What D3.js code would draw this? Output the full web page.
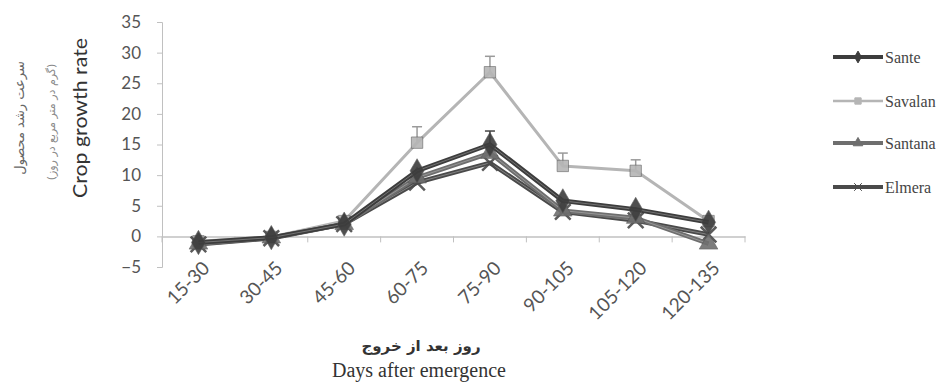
<!DOCTYPE html>
<html><head><meta charset="utf-8">
<script src="https://cdn.jsdelivr.net/npm/d3@7"></script>
<style>body{margin:0;background:#fff}svg{display:block}</style>
</head><body><svg id="c" width="947" height="383"></svg>
<script>
const categories = ["15-30","30-45","45-60","60-75","75-90","90-105","105-120","120-135"];
const sante   = [-1.0, -0.2, 2.0, 10.7, 15.0, 5.8, 4.4, 2.3];
const savalan = [-0.8, -0.1, 2.5, 15.3, 26.8, 11.5, 10.7, 2.5];
const santana = [-1.2, -0.2, 2.0, 9.6, 13.6, 4.2, 3.0, -1.2];
const elmera  = [-1.3, -0.3, 2.0, 8.8, 12.0, 4.0, 2.6, 0.3];
const savalanErr = [0, 0, 0, 2.6, 2.6, 2.1, 1.8, 0];
const santeErr   = [0, 0, 0, 0, 2.2, 0, 0, 0];
const yTicks = [-5,0,5,10,15,20,25,30,35];
const seriesNames = ["Sante","Savalan","Santana","Elmera"];

const svg = d3.select("#c");
const x = d3.scaleBand().domain(categories).range([162,745]);
const y = d3.scaleLinear().domain([-5,35]).range([267,22]);
const axisCol = "#c0c0c0";
const sans = "Lato, 'Open Sans', sans-serif";

// y axis
const ya = svg.append("g").attr("transform","translate(162,0)")
  .call(d3.axisLeft(y).tickValues(yTicks).tickSize(5).tickPadding(16));
ya.select(".domain").attr("stroke",axisCol);
ya.selectAll(".tick line").attr("stroke",axisCol);
ya.selectAll("text").attr("font-family",sans).attr("font-size",17).attr("fill","#555");

// x axis at zero
const xa = svg.append("g").attr("transform",`translate(0,${y(0)})`)
  .call(d3.axisBottom(x).tickSize(0).tickFormat(""));
xa.select(".domain").attr("stroke",axisCol).attr("stroke-width",1.5);
svg.append("g").selectAll("line").data(categories.concat(["end"])).join("line")
  .attr("x1",(d,i)=>162+i*x.bandwidth()).attr("x2",(d,i)=>162+i*x.bandwidth())
  .attr("y1",y(0)).attr("y2",y(0)+6).attr("stroke",axisCol);

// x tick labels
svg.append("g").selectAll("text").data(categories).join("text")
  .attr("transform",d=>`translate(${x(d)+x.bandwidth()/2+3},${y(-5)-7}) rotate(-45)`)
  .attr("text-anchor","end").attr("dy","0.7em")
  .attr("font-family",sans).attr("font-size",19).attr("fill","#555")
  .text(d=>d);

const cx = d=>x(d)+x.bandwidth()/2;
const line = d3.line().x((v,i)=>cx(categories[i])).y(v=>y(v));

// error bars
function errBars(vals, errs, col){
  const g = svg.append("g").attr("stroke",col).attr("stroke-width",1.5);
  categories.forEach((c,i)=>{
    if(!errs[i]) return;
    g.append("line").attr("x1",cx(c)).attr("x2",cx(c)).attr("y1",y(vals[i])).attr("y2",y(vals[i]+errs[i]));
    g.append("line").attr("x1",cx(c)-5).attr("x2",cx(c)+5).attr("y1",y(vals[i]+errs[i])).attr("y2",y(vals[i]+errs[i]));
  });
}
errBars(savalan, savalanErr, "#9a9a9a");
errBars(sante, santeErr, "#444");

const styles = {
  Sante:{data:sante,col:"#3d3d3d",core:"#8a8a8a",w:4.5,sym:d3.symbolDiamond,size:170},
  Savalan:{data:savalan,col:"#b5b5b5",core:"#cfcfcf",w:3,sym:d3.symbolSquare,size:130},
  Santana:{data:santana,col:"#6e6e6e",core:"#a8a8a8",w:4.5,sym:d3.symbolTriangle,size:150},
  Elmera:{data:elmera,col:"#4a4a4a",core:"#9a9a9a",w:4.5,sym:d3.symbolX,size:160}
};
const drawOrder = ["Savalan","Elmera","Santana","Sante"];
drawOrder.forEach(n=>{
  const s = styles[n];
  svg.append("path").datum(s.data).attr("d",line).attr("fill","none")
    .attr("stroke",s.col).attr("stroke-width",s.w).attr("stroke-linejoin","round");
  if(n!=="Savalan") svg.append("path").datum(s.data).attr("d",line).attr("fill","none")
    .attr("stroke",s.core).attr("stroke-width",1).attr("opacity",0.7);
  svg.append("g").selectAll("path").data(s.data).join("path")
    .attr("transform",(v,i)=>`translate(${cx(categories[i])},${y(v)})`)
    .attr("d",d3.symbol().type(s.sym).size(s.size))
    .attr("fill",s.col).attr("stroke",s.sym===d3.symbolX?s.col:"#555").attr("stroke-width",s.sym===d3.symbolX?2.5:0.6)
    .attr("opacity",0.9);
});

// legend
const lg = svg.append("g");
const ly = [57,101,143,187];
seriesNames.forEach((n,i)=>{
  const s = styles[n];
  lg.append("line").attr("x1",833).attr("x2",883).attr("y1",ly[i]).attr("y2",ly[i])
    .attr("stroke",s.col).attr("stroke-width",s.w-0.5);
  lg.append("path").attr("transform",`translate(858,${ly[i]})`)
    .attr("d",d3.symbol().type(s.sym).size(40)).attr("fill",s.col).attr("stroke",s.col);
  lg.append("text").attr("x",885).attr("y",ly[i]).attr("dy","0.35em")
    .attr("font-family","'Liberation Serif', serif").attr("font-size",16).attr("fill","#444").text(n);
});

// axis titles
svg.append("text").attr("x",421).attr("y",351).attr("text-anchor","middle")
  .attr("font-family","'DejaVu Sans', 'Noto Sans', sans-serif").attr("font-weight","bold").attr("font-size",15).attr("fill","#333")
  .attr("direction","rtl").text("روز بعد از خروج");
svg.append("text").attr("x",419).attr("y",377).attr("text-anchor","middle")
  .attr("font-family","'Liberation Serif', serif").attr("font-size",20).attr("fill","#333")
  .text("Days after emergence");

svg.append("text").attr("transform","translate(87,118) rotate(-90)").attr("text-anchor","middle")
  .attr("font-family",sans).attr("font-size",19).attr("fill","#333")
  .attr("textLength",160).attr("lengthAdjust","spacingAndGlyphs").text("Crop growth rate");
svg.append("text").attr("transform","translate(55,122) rotate(-90)").attr("text-anchor","middle")
  .attr("font-family","'DejaVu Sans', 'Noto Sans', sans-serif").attr("font-size",11).attr("fill","#888")
  .attr("direction","rtl").text("(گرم در متر مربع در روز)");
svg.append("text").attr("transform","translate(24,118) rotate(-90)").attr("text-anchor","middle")
  .attr("font-family","'DejaVu Sans', 'Noto Sans', sans-serif").attr("font-size",13).attr("fill","#666")
  .attr("direction","rtl").text("سرعت رشد محصول");
</script></body></html>
